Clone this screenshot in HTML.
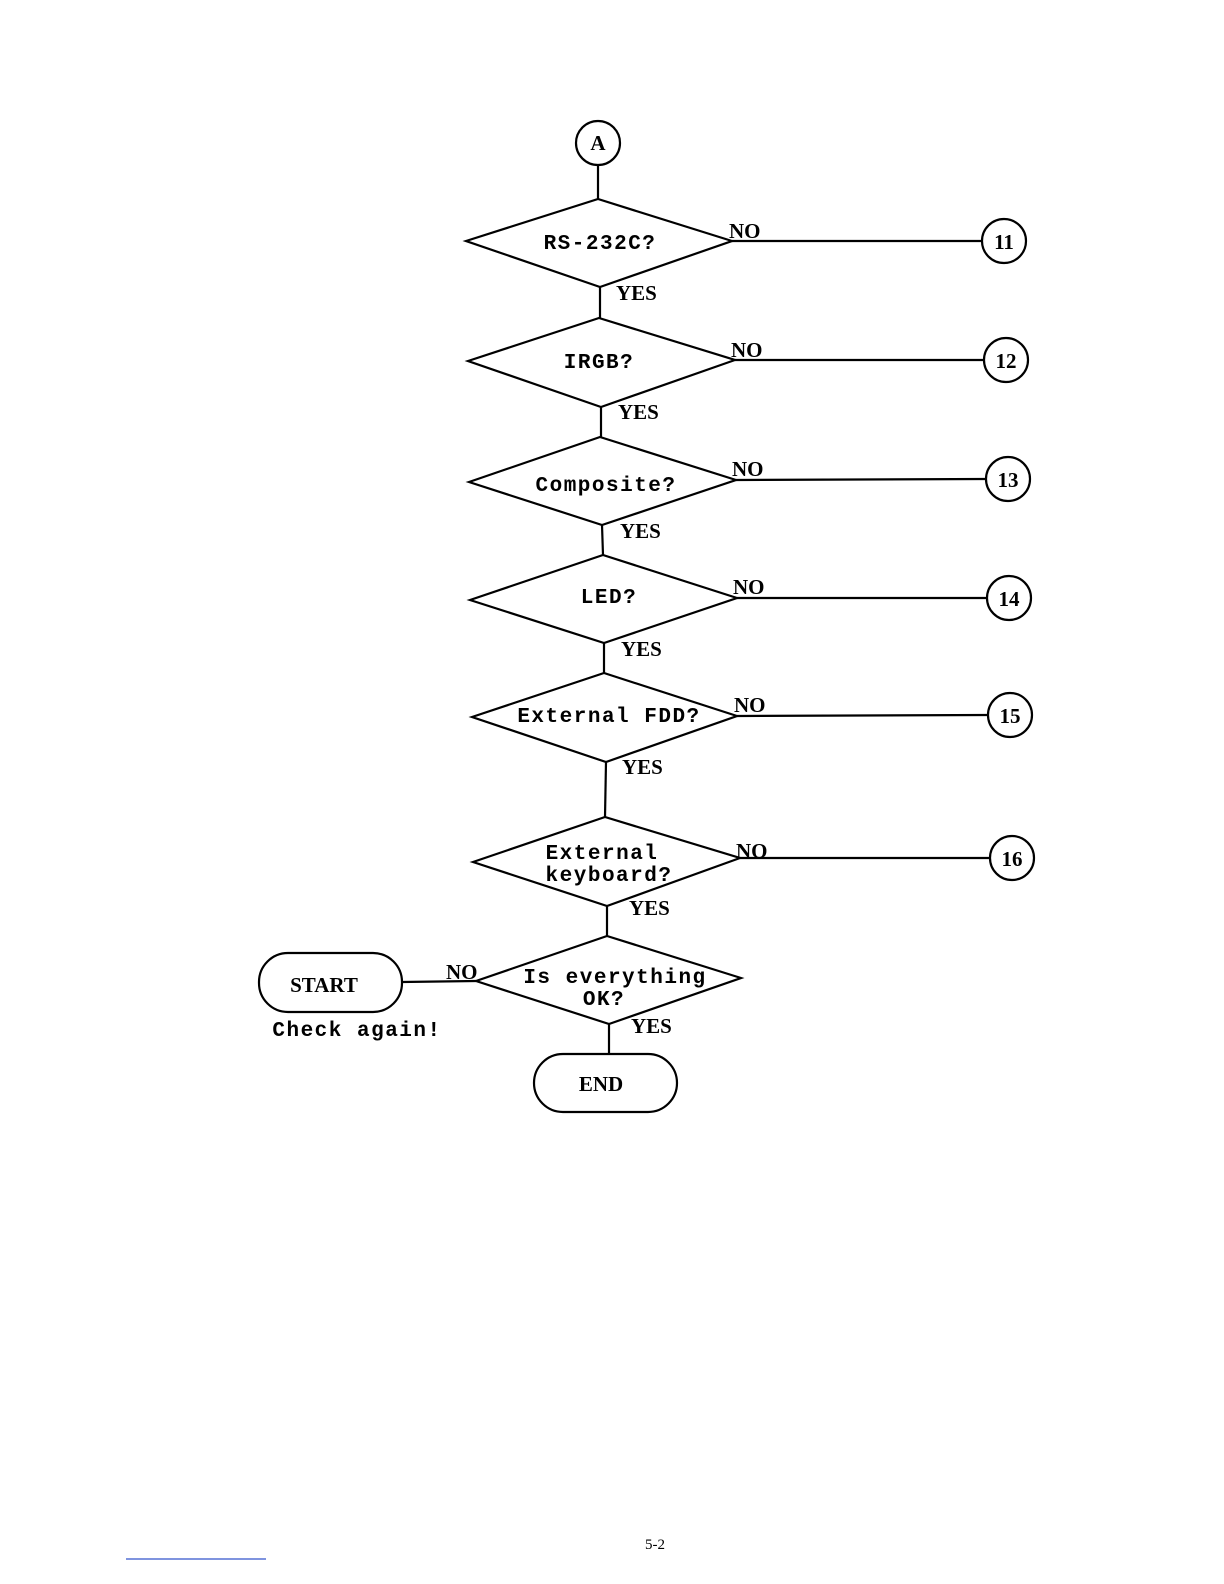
<!DOCTYPE html>
<html><head><meta charset="utf-8"><style>
html,body{margin:0;padding:0;background:#fff}
svg{display:block}
.m{font-family:"Liberation Mono",monospace;font-size:21px;font-weight:bold;letter-spacing:1.5px}
.s{font-family:"Liberation Serif",serif;font-size:21px;font-weight:bold}
</style></head><body>
<svg width="1224" height="1584" viewBox="0 0 1224 1584" xmlns="http://www.w3.org/2000/svg">
<g stroke="#000" stroke-width="2.2" fill="none">
<circle cx="598" cy="143" r="22"/>
<line x1="598" y1="165" x2="598" y2="199"/>
<polygon points="466,241 598,199 732,241 600,287"/>
<line x1="600" y1="287" x2="600" y2="318"/>
<polygon points="468,361 599,318 735,360 601,407"/>
<line x1="601" y1="407" x2="601" y2="437"/>
<polygon points="469,482 600,437 736,480 602,525"/>
<line x1="602" y1="525" x2="603" y2="555"/>
<polygon points="470,600 603,555 737,598 604,643"/>
<line x1="604" y1="643" x2="604" y2="673"/>
<polygon points="472,717 604,673 737,716 606,762"/>
<line x1="606" y1="762" x2="605" y2="817"/>
<polygon points="473,862 605,817 740,858 607,906"/>
<line x1="607" y1="906" x2="607" y2="936"/>
<polygon points="476,981 607,936 741,978 609,1024"/>
<line x1="609" y1="1024" x2="609" y2="1054"/>
<rect x="259" y="953" width="143" height="59" rx="29"/>
<rect x="534" y="1054" width="143" height="58" rx="29"/>
<line x1="402" y1="982" x2="476" y2="981"/>
<line x1="732" y1="241" x2="982" y2="241"/>
<circle cx="1004" cy="241" r="22"/>
<line x1="735" y1="360" x2="984" y2="360"/>
<circle cx="1006" cy="360" r="22"/>
<line x1="736" y1="480" x2="986" y2="479"/>
<circle cx="1008" cy="479" r="22"/>
<line x1="737" y1="598" x2="987" y2="598"/>
<circle cx="1009" cy="598" r="22"/>
<line x1="737" y1="716" x2="988" y2="715"/>
<circle cx="1010" cy="715" r="22"/>
<line x1="740" y1="858" x2="990" y2="858"/>
<circle cx="1012" cy="858" r="22"/>
<line x1="126" y1="1559" x2="266" y2="1559" stroke="#35c" stroke-width="1.2"/>
</g>
<g fill="#000">
<text class="s" x="598" y="150" text-anchor="middle" font-size="17">A</text>
<text class="m" x="600" y="249" text-anchor="middle">RS-232C?</text>
<text class="m" x="599" y="368" text-anchor="middle">IRGB?</text>
<text class="m" x="606" y="491" text-anchor="middle">Composite?</text>
<text class="m" x="609" y="603" text-anchor="middle">LED?</text>
<text class="m" x="609" y="722" text-anchor="middle">External FDD?</text>
<text class="m" x="602" y="859" text-anchor="middle">External</text>
<text class="m" x="609" y="881" text-anchor="middle">keyboard?</text>
<text class="m" x="615" y="983" text-anchor="middle">Is everything</text>
<text class="m" x="604" y="1005" text-anchor="middle">OK?</text>
<text class="m" x="357" y="1036" text-anchor="middle">Check again!</text>
<text class="s" x="324" y="992" text-anchor="middle">START</text>
<text class="s" x="601" y="1091" text-anchor="middle">END</text>
<g class="s">
<text x="729" y="238">NO</text><text x="616" y="300">YES</text>
<text x="731" y="357">NO</text><text x="618" y="419">YES</text>
<text x="732" y="476">NO</text><text x="620" y="538">YES</text>
<text x="733" y="594">NO</text><text x="621" y="656">YES</text>
<text x="734" y="712">NO</text><text x="622" y="774">YES</text>
<text x="736" y="858">NO</text><text x="629" y="915">YES</text>
<text x="446" y="979">NO</text><text x="631" y="1033">YES</text>
<text x="1004" y="249" text-anchor="middle">11</text>
<text x="1006" y="368" text-anchor="middle">12</text>
<text x="1008" y="487" text-anchor="middle">13</text>
<text x="1009" y="606" text-anchor="middle">14</text>
<text x="1010" y="723" text-anchor="middle">15</text>
<text x="1012" y="866" text-anchor="middle">16</text>
</g>
<text x="655" y="1549" text-anchor="middle" font-family="Liberation Serif,serif" font-size="15">5-2</text>
</g>
</svg>
</body></html>
